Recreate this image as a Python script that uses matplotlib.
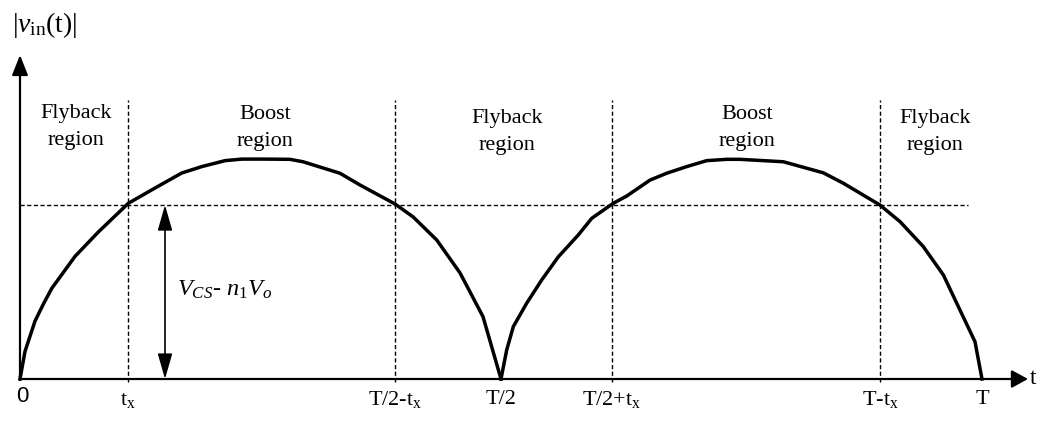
import matplotlib
matplotlib.use("Agg")
import matplotlib.pyplot as plt

plt.rcParams['mathtext.fontset'] = 'custom'
plt.rcParams['mathtext.rm'] = 'Liberation Serif'
plt.rcParams['mathtext.it'] = 'Liberation Serif:italic'
plt.rcParams['mathtext.bf'] = 'Liberation Serif:bold'

# ---- data (time in units of T, amplitude normalised to peak) ----
arch1_t = [0.0, 0.0052, 0.0156, 0.0244, 0.033, 0.0572, 0.0814, 0.1126, 0.1403, 0.1681,
           0.1889, 0.2131, 0.2304, 0.2547, 0.2807, 0.2942, 0.3326, 0.3534,
           0.3898, 0.4085, 0.4332, 0.4574, 0.4813, 0.5]
arch1_v = [0.0, 0.125, 0.262, 0.34, 0.41, 0.555, 0.665, 0.795, 0.864, 0.932,
           0.961, 0.988, 0.995, 0.995, 0.994, 0.983, 0.931, 0.878,
           0.792, 0.734, 0.629, 0.480, 0.282, 0.0]
arch2_t = [0.5, 0.5059, 0.5128, 0.5267, 0.5423, 0.5596, 0.5804, 0.5943, 0.6167,
           0.6307, 0.6549, 0.6722, 0.6930, 0.7138, 0.7346, 0.7484, 0.7935,
           0.8350, 0.8558, 0.8940, 0.9148, 0.9390, 0.9598, 0.9771, 0.9927, 1.0]
arch2_v = [0.0, 0.131, 0.237, 0.343, 0.448, 0.553, 0.652, 0.727, 0.795,
           0.828, 0.900, 0.931, 0.961, 0.988, 0.994, 0.994, 0.983,
           0.933, 0.886, 0.787, 0.712, 0.599, 0.471, 0.312, 0.169, 0.0]

threshold = 0.787
boundary_t = [0.1126, 0.3898, 0.615, 0.894]
tick_t = [0.0, 0.1126, 0.3898, 0.5, 0.615, 0.894, 1.0]
tick_labels = ['0', r'$\mathrm{t}_{\mathrm{x}}$', r'$\mathrm{T/2\text{-}t}_{\mathrm{x}}$',
               'T/2', r'$\mathrm{T/2{+}t}_{\mathrm{x}}$', r'$\mathrm{T\text{-}t}_{\mathrm{x}}$', 'T']
region_names = ['Flyback\nregion', 'Boost\nregion', 'Flyback\nregion',
                'Boost\nregion', 'Flyback\nregion']
region_t = [0.058, 0.255, 0.506, 0.756, 0.951]

# ---- figure in pixel-mapped data space ----
W, H = 1045, 421
X0, XS = 20.0, 962.0      # pixel of t=0, pixels per T
Y0, YS = 379.0, 221.0     # pixel of v=0, pixels per unit v

def px_t(x):
    return (x - X0) / XS

def px_v(y):
    return (Y0 - y) / YS

fig = plt.figure(figsize=(W / 100, H / 100), dpi=100)
ax = fig.add_axes([0, 0, 1, 1])
ax.set_xlim(px_t(0), px_t(W))
ax.set_ylim(px_v(H), px_v(0))
ax.axis('off')

serif = 'Liberation Serif'

# axes with arrows
ax.annotate('', xy=(px_t(1028), 0), xytext=(0, 0),
            arrowprops=dict(arrowstyle='-|>,head_length=0.55,head_width=0.3',
                            mutation_scale=18, lw=1.6, color='black',
                            shrinkA=0, shrinkB=0))
ax.annotate('', xy=(0, px_v(55)), xytext=(0, px_v(380)),
            arrowprops=dict(arrowstyle='-|>,head_length=0.68,head_width=0.27',
                            mutation_scale=18, lw=1.6, color='black',
                            shrinkA=0, shrinkB=0))

# dashed guides
for bt in boundary_t:
    ax.plot([bt, bt], [px_v(382), px_v(100)], color='black', lw=1.0,
            linestyle=(0, (3.0, 1.8)))
ax.plot([0, px_t(968)], [threshold, threshold], color='black', lw=1.0,
        linestyle=(0, (3.0, 1.8)))

# waveform
ax.plot(arch1_t, arch1_v, color='black', lw=2.5, solid_joinstyle='round')
ax.plot(arch2_t, arch2_v, color='black', lw=2.5, solid_joinstyle='round')

# double arrow
ax.annotate('', xy=(px_t(165), threshold), xytext=(px_t(165), 0),
            arrowprops=dict(arrowstyle='<|-|>,head_length=0.87,head_width=0.25',
                            mutation_scale=18, lw=1.2, color='black',
                            shrinkA=0, shrinkB=0))
ax.text(px_t(177), px_v(290), r'$V_{CS}$- $n_{\mathit{1}}V_{o}$', fontsize=17.5,
        ha='left', va='center', family=serif)

# tick labels
for tt, lab in zip(tick_t, tick_labels):
    if lab == '0':
        ax.text(tt + px_t(22), px_v(397), lab, fontsize=16, ha='center',
                va='center', family='Liberation Sans')
    else:
        ax.text(tt, px_v(400), lab, fontsize=16, ha='center', va='center',
                family=serif)

ax.text(px_t(1030), 0, 't', fontsize=17, ha='left', va='center', family=serif)

# region labels
region_y = [127, 128, 132, 128, 132]
for rt, name, ry in zip(region_t, region_names, region_y):
    ax.text(rt, px_v(ry), name, fontsize=16, ha='center', va='center',
            family=serif, linespacing=1.55)

# y label
ax.text(px_t(12), px_v(25), r'$|v_{\mathrm{in}}(\mathrm{t})|$', fontsize=20,
        ha='left', va='center')

fig.savefig('out.png', dpi=100)
